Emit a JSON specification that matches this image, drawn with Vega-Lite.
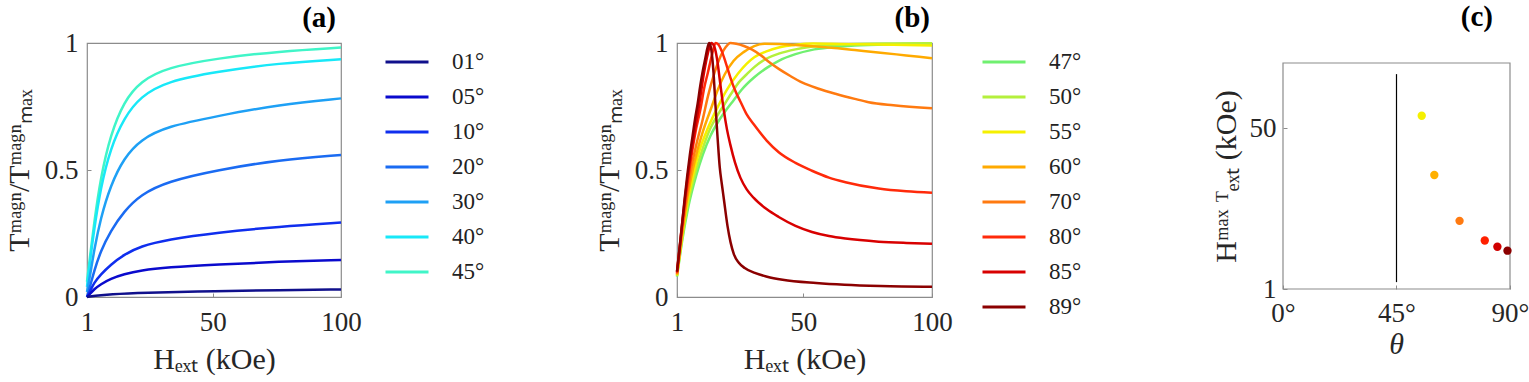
{
"$schema":"https://vega.github.io/schema/vega-lite/v6.json",
"background":"white",
"padding":{"left":3,"top":3,"right":2,"bottom":2},
"config":{
 "view":{"stroke":"#8c8c8c","strokeWidth":1.2},
 "font":"Liberation Serif",
 "axis":{"grid":false,"domain":false,"ticks":true,"tickSize":-4,"tickColor":"#8c8c8c","tickWidth":1,"labelFlush":false,"labelOverlap":false,"labelFont":"Liberation Serif","labelFontSize":27,"labelColor":"#262626","titleFont":"Liberation Serif","titleFontSize":30,"titleFontWeight":"normal","titleColor":"#262626","labelPadding":13},
 "axisX":{"labelPadding":16},
 "title":{"font":"Liberation Serif","fontSize":29,"fontWeight":"bold","anchor":"end","color":"black","frame":"group","baseline":"alphabetic","offset":-4},
 "legend":{"orient":"none","symbolType":"stroke","symbolSize":1849,"symbolStrokeWidth":3,"labelFont":"Liberation Serif","labelFontSize":23,"labelColor":"#222222","labelOffset":22,"rowPadding":-12,"padding":0,"title":null}
},
"datasets":{
 "a":[
{"H":1,"v":0.06,"angle":"45°"},{"H":2.3,"v":0.17,"angle":"45°"},{"H":3.7,"v":0.285,"angle":"45°"},{"H":6.3,"v":0.47,"angle":"45°"},{"H":10.2,"v":0.64,"angle":"45°"},{"H":15.4,"v":0.77,"angle":"45°"},{"H":21.9,"v":0.85,"angle":"45°"},{"H":32.3,"v":0.904,"angle":"45°"},{"H":51.8,"v":0.94,"angle":"45°"},{"H":75.9,"v":0.967,"angle":"45°"},{"H":100,"v":0.982,"angle":"45°"},
{"H":1,"v":0.04,"angle":"40°"},{"H":2.3,"v":0.15,"angle":"40°"},{"H":3.7,"v":0.26,"angle":"40°"},{"H":6.3,"v":0.43,"angle":"40°"},{"H":10.2,"v":0.587,"angle":"40°"},{"H":15.4,"v":0.705,"angle":"40°"},{"H":21.9,"v":0.79,"angle":"40°"},{"H":32.3,"v":0.85,"angle":"40°"},{"H":51.8,"v":0.887,"angle":"40°"},{"H":75.9,"v":0.921,"angle":"40°"},{"H":100,"v":0.936,"angle":"40°"},
{"H":1,"v":0.02,"angle":"30°"},{"H":2.3,"v":0.09,"angle":"30°"},{"H":3.7,"v":0.18,"angle":"30°"},{"H":6.3,"v":0.31,"angle":"30°"},{"H":10.2,"v":0.44,"angle":"30°"},{"H":15.4,"v":0.547,"angle":"30°"},{"H":21.9,"v":0.62,"angle":"30°"},{"H":32.3,"v":0.672,"angle":"30°"},{"H":51.8,"v":0.712,"angle":"30°"},{"H":75.9,"v":0.758,"angle":"30°"},{"H":100,"v":0.782,"angle":"30°"},
{"H":1,"v":0,"angle":"20°"},{"H":2.3,"v":0.045,"angle":"20°"},{"H":3.7,"v":0.1,"angle":"20°"},{"H":6.3,"v":0.18,"angle":"20°"},{"H":10.2,"v":0.26,"angle":"20°"},{"H":15.4,"v":0.337,"angle":"20°"},{"H":21.9,"v":0.403,"angle":"20°"},{"H":32.3,"v":0.455,"angle":"20°"},{"H":51.8,"v":0.5,"angle":"20°"},{"H":75.9,"v":0.54,"angle":"20°"},{"H":100,"v":0.559,"angle":"20°"},
{"H":1,"v":0,"angle":"10°"},{"H":2.3,"v":0.025,"angle":"10°"},{"H":3.7,"v":0.055,"angle":"10°"},{"H":6.3,"v":0.088,"angle":"10°"},{"H":10.2,"v":0.127,"angle":"10°"},{"H":15.4,"v":0.167,"angle":"10°"},{"H":21.9,"v":0.2,"angle":"10°"},{"H":32.3,"v":0.226,"angle":"10°"},{"H":51.8,"v":0.254,"angle":"10°"},{"H":75.9,"v":0.277,"angle":"10°"},{"H":100,"v":0.293,"angle":"10°"},
{"H":1,"v":0,"angle":"05°"},{"H":2.3,"v":0.013,"angle":"05°"},{"H":3.7,"v":0.03,"angle":"05°"},{"H":6.3,"v":0.05,"angle":"05°"},{"H":10.2,"v":0.072,"angle":"05°"},{"H":15.4,"v":0.09,"angle":"05°"},{"H":21.9,"v":0.105,"angle":"05°"},{"H":32.3,"v":0.117,"angle":"05°"},{"H":51.8,"v":0.128,"angle":"05°"},{"H":75.9,"v":0.139,"angle":"05°"},{"H":100,"v":0.146,"angle":"05°"},
{"H":1,"v":0,"angle":"01°"},{"H":3.7,"v":0.004,"angle":"01°"},{"H":10.2,"v":0.011,"angle":"01°"},{"H":21.9,"v":0.017,"angle":"01°"},{"H":51.8,"v":0.023,"angle":"01°"},{"H":75.9,"v":0.027,"angle":"01°"},{"H":100,"v":0.03,"angle":"01°"}
 ],
 "b":[
{"H":1,"v":0.08,"angle":"47°"},{"H":3,"v":0.22,"angle":"47°"},{"H":5.5,"v":0.36,"angle":"47°"},{"H":8.5,"v":0.48,"angle":"47°"},{"H":11,"v":0.56,"angle":"47°"},{"H":14,"v":0.635,"angle":"47°"},{"H":17,"v":0.69,"angle":"47°"},{"H":20,"v":0.735,"angle":"47°"},{"H":23,"v":0.775,"angle":"47°"},{"H":26,"v":0.815,"angle":"47°"},{"H":31,"v":0.865,"angle":"47°"},{"H":36,"v":0.903,"angle":"47°"},{"H":40.5,"v":0.93,"angle":"47°"},{"H":47,"v":0.956,"angle":"47°"},{"H":53,"v":0.972,"angle":"47°"},{"H":61,"v":0.983,"angle":"47°"},{"H":70,"v":0.99,"angle":"47°"},{"H":85,"v":0.995,"angle":"47°"},{"H":100,"v":0.997,"angle":"47°"},
{"H":1,"v":0.083,"angle":"50°"},{"H":3,"v":0.23,"angle":"50°"},{"H":5.5,"v":0.38,"angle":"50°"},{"H":8.4,"v":0.5,"angle":"50°"},{"H":11,"v":0.585,"angle":"50°"},{"H":14,"v":0.665,"angle":"50°"},{"H":17,"v":0.72,"angle":"50°"},{"H":19.5,"v":0.76,"angle":"50°"},{"H":22,"v":0.8,"angle":"50°"},{"H":25,"v":0.845,"angle":"50°"},{"H":27.9,"v":0.875,"angle":"50°"},{"H":31,"v":0.905,"angle":"50°"},{"H":36,"v":0.94,"angle":"50°"},{"H":40.5,"v":0.958,"angle":"50°"},{"H":47,"v":0.975,"angle":"50°"},{"H":53,"v":0.985,"angle":"50°"},{"H":61,"v":0.992,"angle":"50°"},{"H":70,"v":0.996,"angle":"50°"},{"H":85,"v":0.998,"angle":"50°"},{"H":100,"v":0.999,"angle":"50°"},
{"H":1,"v":0.085,"angle":"55°"},{"H":3,"v":0.24,"angle":"55°"},{"H":5.5,"v":0.4,"angle":"55°"},{"H":7.7,"v":0.5,"angle":"55°"},{"H":10,"v":0.585,"angle":"55°"},{"H":13,"v":0.665,"angle":"55°"},{"H":16.9,"v":0.75,"angle":"55°"},{"H":20,"v":0.81,"angle":"55°"},{"H":24.7,"v":0.88,"angle":"55°"},{"H":28,"v":0.918,"angle":"55°"},{"H":31,"v":0.944,"angle":"55°"},{"H":36,"v":0.968,"angle":"55°"},{"H":40.5,"v":0.982,"angle":"55°"},{"H":47,"v":0.993,"angle":"55°"},{"H":54,"v":0.998,"angle":"55°"},{"H":61,"v":0.997,"angle":"55°"},{"H":70,"v":0.995,"angle":"55°"},{"H":85,"v":0.993,"angle":"55°"},{"H":100,"v":0.99,"angle":"55°"},
{"H":1,"v":0.088,"angle":"60°"},{"H":3,"v":0.25,"angle":"60°"},{"H":5,"v":0.39,"angle":"60°"},{"H":7.1,"v":0.5,"angle":"60°"},{"H":9,"v":0.58,"angle":"60°"},{"H":11,"v":0.65,"angle":"60°"},{"H":14.5,"v":0.75,"angle":"60°"},{"H":17,"v":0.82,"angle":"60°"},{"H":19.5,"v":0.876,"angle":"60°"},{"H":23,"v":0.93,"angle":"60°"},{"H":27,"v":0.965,"angle":"60°"},{"H":31,"v":0.988,"angle":"60°"},{"H":35,"v":0.997,"angle":"60°"},{"H":40.5,"v":0.996,"angle":"60°"},{"H":47,"v":0.992,"angle":"60°"},{"H":55,"v":0.986,"angle":"60°"},{"H":61,"v":0.981,"angle":"60°"},{"H":70,"v":0.972,"angle":"60°"},{"H":80,"v":0.962,"angle":"60°"},{"H":90,"v":0.951,"angle":"60°"},{"H":100,"v":0.94,"angle":"60°"},
{"H":1,"v":0.09,"angle":"70°"},{"H":3,"v":0.26,"angle":"70°"},{"H":4.7,"v":0.39,"angle":"70°"},{"H":6.4,"v":0.5,"angle":"70°"},{"H":8.5,"v":0.6,"angle":"70°"},{"H":11,"v":0.7,"angle":"70°"},{"H":13,"v":0.79,"angle":"70°"},{"H":15.6,"v":0.884,"angle":"70°"},{"H":18,"v":0.95,"angle":"70°"},{"H":20,"v":0.985,"angle":"70°"},{"H":21.7,"v":1,"angle":"70°"},{"H":24,"v":0.997,"angle":"70°"},{"H":27,"v":0.988,"angle":"70°"},{"H":30,"v":0.975,"angle":"70°"},{"H":33.5,"v":0.952,"angle":"70°"},{"H":36.6,"v":0.926,"angle":"70°"},{"H":40.5,"v":0.898,"angle":"70°"},{"H":45,"v":0.87,"angle":"70°"},{"H":49.5,"v":0.845,"angle":"70°"},{"H":56,"v":0.82,"angle":"70°"},{"H":62.5,"v":0.8,"angle":"70°"},{"H":70,"v":0.78,"angle":"70°"},{"H":75.4,"v":0.767,"angle":"70°"},{"H":85,"v":0.755,"angle":"70°"},{"H":100,"v":0.743,"angle":"70°"},
{"H":1,"v":0.095,"angle":"80°"},{"H":3,"v":0.28,"angle":"80°"},{"H":5.8,"v":0.5,"angle":"80°"},{"H":8,"v":0.64,"angle":"80°"},{"H":10.3,"v":0.75,"angle":"80°"},{"H":11.5,"v":0.82,"angle":"80°"},{"H":13,"v":0.884,"angle":"80°"},{"H":14.5,"v":0.95,"angle":"80°"},{"H":16,"v":1,"angle":"80°"},{"H":17,"v":0.995,"angle":"80°"},{"H":18.5,"v":0.965,"angle":"80°"},{"H":20,"v":0.92,"angle":"80°"},{"H":21.7,"v":0.865,"angle":"80°"},{"H":23.5,"v":0.815,"angle":"80°"},{"H":25.6,"v":0.77,"angle":"80°"},{"H":28,"v":0.72,"angle":"80°"},{"H":30.8,"v":0.68,"angle":"80°"},{"H":35.9,"v":0.615,"angle":"80°"},{"H":40.5,"v":0.57,"angle":"80°"},{"H":47,"v":0.528,"angle":"80°"},{"H":53.4,"v":0.497,"angle":"80°"},{"H":60,"v":0.47,"angle":"80°"},{"H":66.4,"v":0.452,"angle":"80°"},{"H":79.3,"v":0.427,"angle":"80°"},{"H":90,"v":0.416,"angle":"80°"},{"H":100,"v":0.41,"angle":"80°"},
{"H":1,"v":0.1,"angle":"85°"},{"H":3,"v":0.29,"angle":"85°"},{"H":5.5,"v":0.5,"angle":"85°"},{"H":7.5,"v":0.63,"angle":"85°"},{"H":9.5,"v":0.75,"angle":"85°"},{"H":11.5,"v":0.884,"angle":"85°"},{"H":13,"v":0.96,"angle":"85°"},{"H":14.3,"v":1,"angle":"85°"},{"H":15.5,"v":0.985,"angle":"85°"},{"H":16.5,"v":0.94,"angle":"85°"},{"H":17.8,"v":0.84,"angle":"85°"},{"H":19.1,"v":0.74,"angle":"85°"},{"H":20.4,"v":0.66,"angle":"85°"},{"H":21.7,"v":0.6,"angle":"85°"},{"H":23.5,"v":0.53,"angle":"85°"},{"H":25.6,"v":0.47,"angle":"85°"},{"H":28,"v":0.425,"angle":"85°"},{"H":30.8,"v":0.39,"angle":"85°"},{"H":35.9,"v":0.345,"angle":"85°"},{"H":40.5,"v":0.315,"angle":"85°"},{"H":47,"v":0.28,"angle":"85°"},{"H":53.4,"v":0.256,"angle":"85°"},{"H":60,"v":0.24,"angle":"85°"},{"H":66.4,"v":0.23,"angle":"85°"},{"H":79.3,"v":0.218,"angle":"85°"},{"H":90,"v":0.213,"angle":"85°"},{"H":100,"v":0.21,"angle":"85°"},
{"H":1,"v":0.1,"angle":"89°"},{"H":2,"v":0.19,"angle":"89°"},{"H":3,"v":0.29,"angle":"89°"},{"H":4,"v":0.39,"angle":"89°"},{"H":5,"v":0.48,"angle":"89°"},{"H":6,"v":0.56,"angle":"89°"},{"H":7,"v":0.63,"angle":"89°"},{"H":8,"v":0.7,"angle":"89°"},{"H":9,"v":0.76,"angle":"89°"},{"H":10,"v":0.83,"angle":"89°"},{"H":11,"v":0.89,"angle":"89°"},{"H":12,"v":0.94,"angle":"89°"},{"H":12.8,"v":0.98,"angle":"89°"},{"H":13.5,"v":1,"angle":"89°"},{"H":14.3,"v":0.975,"angle":"89°"},{"H":15.2,"v":0.88,"angle":"89°"},{"H":15.9,"v":0.76,"angle":"89°"},{"H":16.8,"v":0.62,"angle":"89°"},{"H":17.6,"v":0.51,"angle":"89°"},{"H":18.4,"v":0.445,"angle":"89°"},{"H":19.2,"v":0.385,"angle":"89°"},{"H":20.6,"v":0.28,"angle":"89°"},{"H":21.8,"v":0.215,"angle":"89°"},{"H":23.1,"v":0.168,"angle":"89°"},{"H":25,"v":0.135,"angle":"89°"},{"H":27.3,"v":0.114,"angle":"89°"},{"H":31.2,"v":0.095,"angle":"89°"},{"H":36,"v":0.08,"angle":"89°"},{"H":42,"v":0.068,"angle":"89°"},{"H":55,"v":0.055,"angle":"89°"},{"H":66,"v":0.048,"angle":"89°"},{"H":80,"v":0.043,"angle":"89°"},{"H":100,"v":0.04,"angle":"89°"}
 ],
 "c":[
{"theta":55,"Hmax":53.9,"angle":"55°"},{"theta":60,"Hmax":35.8,"angle":"60°"},{"theta":70,"Hmax":21.8,"angle":"70°"},{"theta":80,"Hmax":15.8,"angle":"80°"},{"theta":85,"Hmax":13.9,"angle":"85°"},{"theta":89,"Hmax":12.7,"angle":"89°"}
 ],
 "line45":[{"theta":45,"lo":3.1,"hi":66.6}],
 "frame":[{"x0":0,"x1":90,"y0":1,"y1":70}]
},
"hconcat":[
  {"title":{"text":"(a)","dx":-5},
   "width":254,"height":254,
   "data":{"name":"a"},
   "mark":{"type":"line","strokeWidth":2.5,"interpolate":"basis"},
   "encoding":{
    "x":{"field":"H","type":"quantitative","scale":{"domain":[1,100],"nice":false},"axis":{"values":[1,50,100],"title":"Hₑₓₜ (kOe)","titleY":62,"titleBaseline":"middle"}},
    "y":{"field":"v","type":"quantitative","scale":{"domain":[0,1],"nice":false},"axis":{"values":[0,0.5,1],"format":"~g","title":"Tᵐᵃᵍⁿ/Tᵐᵃᵍⁿₘₐₓ","titleX":-68,"titleY":127,"titleAngle":-90,"titleBaseline":"middle","titleAlign":"center"}},
    "color":{"field":"angle","type":"nominal","scale":{"domain":["01°","05°","10°","20°","30°","40°","45°"],"range":["#10108c","#0a0acd","#0f2eee","#1a6bf2","#1ea0f5","#18e8f8","#40f5c8"]},"legend":{"legendX":297,"legendY":-4,"labelFont":"Liberation Serif","labelFontSize":23}}
   }
  },
  {"title":{"text":"(b)","dx":-2},
   "width":255,"height":254,
   "data":{"name":"b"},
   "mark":{"type":"line","strokeWidth":2.5,"interpolate":"monotone"},
   "encoding":{
    "x":{"field":"H","type":"quantitative","scale":{"domain":[1,100],"nice":false},"axis":{"values":[1,50,100],"title":"Hₑₓₜ (kOe)","titleY":62,"titleBaseline":"middle"}},
    "y":{"field":"v","type":"quantitative","scale":{"domain":[0,1],"nice":false},"axis":{"values":[0,0.5,1],"format":"~g","title":"Tᵐᵃᵍⁿ/Tᵐᵃᵍⁿₘₐₓ","titleX":-68,"titleY":127,"titleAngle":-90,"titleBaseline":"middle","titleAlign":"center"}},
    "color":{"field":"angle","type":"nominal","scale":{"domain":["47°","50°","55°","60°","70°","80°","85°","89°"],"range":["#70f070","#b4f03c","#f5f000","#ffaa00","#ff7a10","#ff2a0a","#d80000","#8b0000"]},"legend":{"legendX":304,"legendY":-4,"labelFont":"Liberation Serif","labelFontSize":23}}
   }
  },
 {"title":{"text":"(c)","dx":-17,"dy":-15},
  "width":242,"height":246,
  "view":{"stroke":null},
  "layer":[
   {"data":{"name":"frame"},"mark":{"type":"rect","filled":false,"color":"#8c8c8c","strokeWidth":1.2},
    "encoding":{
     "x":{"field":"x0","type":"quantitative","scale":{"domain":[-5.947,90],"nice":false,"zero":false},"axis":{"values":[0,45,90],"labelExpr":"datum.value + '°'","labelPadding":15,"title":"θ","titleFontStyle":"italic","titleX":128,"titleY":55,"titleBaseline":"middle"}},
     "x2":{"field":"x1"},
     "y":{"field":"y0","type":"quantitative","scale":{"domain":[1,76.1],"nice":false,"zero":false},"axis":{"values":[1,50],"offset":-15,"labelPadding":11,"title":"Hᵐᵃˣ ᵀₑₓₜ (kOe)","titleX":-57,"titleY":133,"titleAngle":-90,"titleBaseline":"middle","titleAlign":"center"}},
     "y2":{"field":"y1"}
    }},
   {"data":{"name":"line45"},"mark":{"type":"rule","color":"black","strokeWidth":1.2},
    "encoding":{"x":{"field":"theta","type":"quantitative"},"y":{"field":"lo","type":"quantitative"},"y2":{"field":"hi"}}},
   {"data":{"name":"c"},"mark":{"type":"circle","size":70,"opacity":1},
    "encoding":{"x":{"field":"theta","type":"quantitative"},"y":{"field":"Hmax","type":"quantitative"},
     "color":{"field":"angle","type":"nominal","scale":{"domain":["55°","60°","70°","80°","85°","89°"],"range":["#f5f000","#ffb000","#ff7a10","#ff2000","#d00000","#8b0000"]},"legend":null}}}
  ]
 }
],
"spacing":336,"bounds":"flush",
"resolve":{"scale":{"color":"independent","x":"independent","y":"independent"},"legend":{"color":"independent"}}
}
